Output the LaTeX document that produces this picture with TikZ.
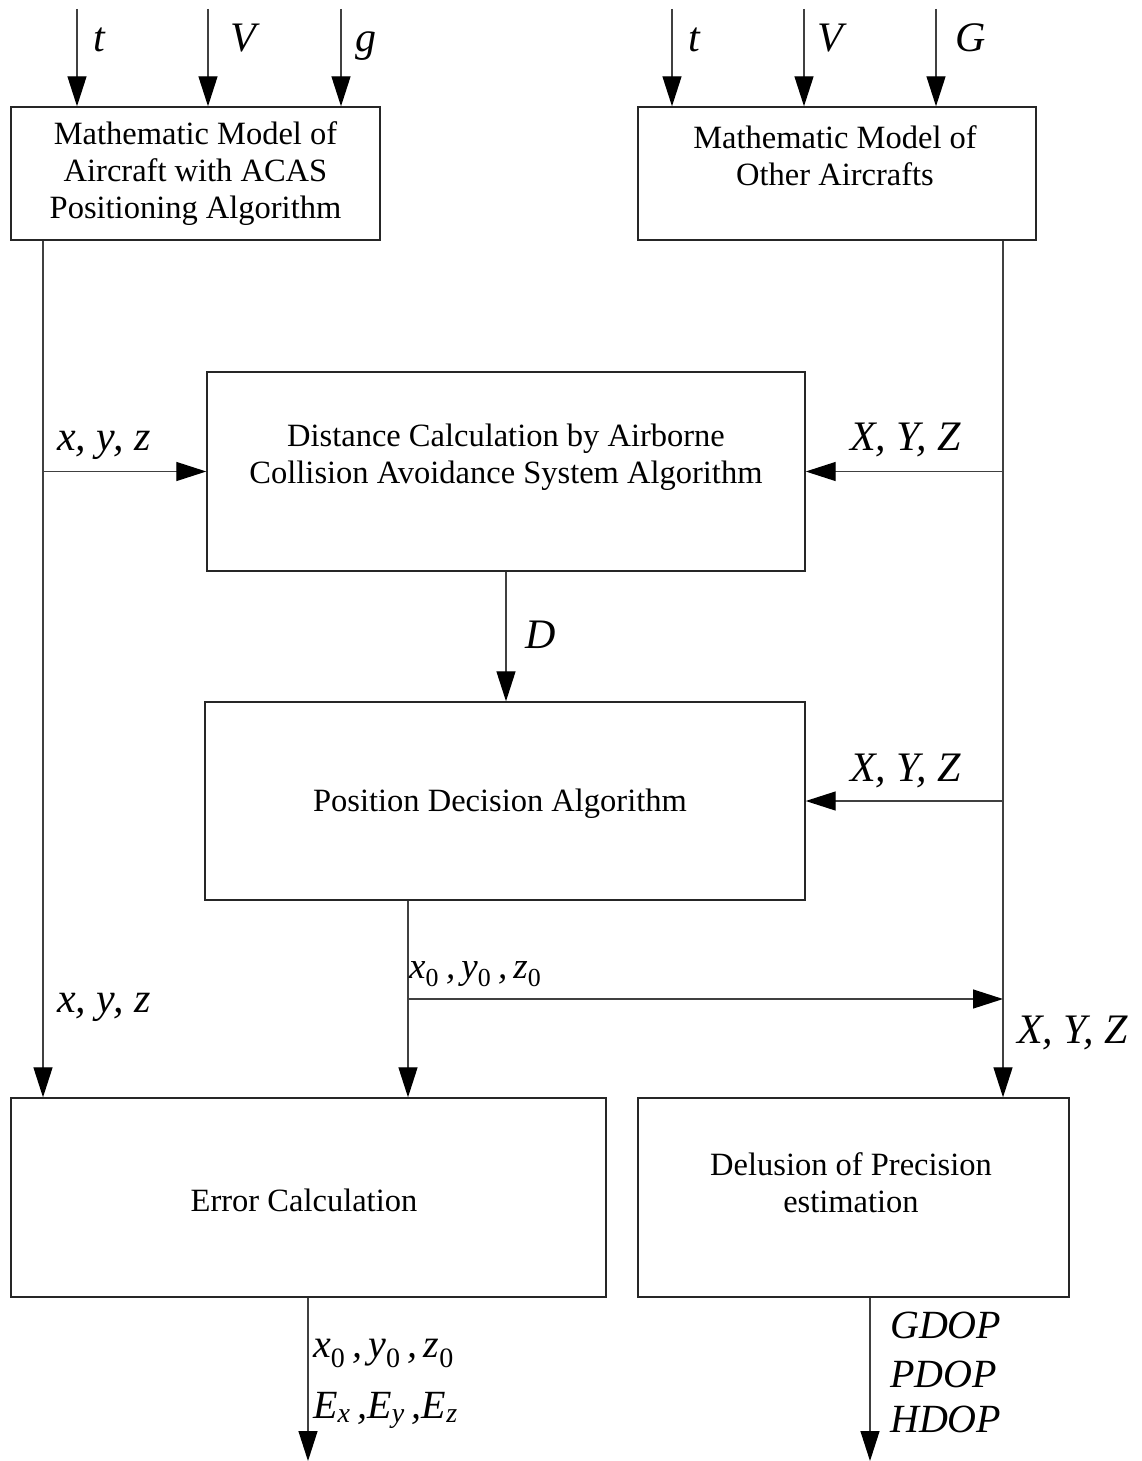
\documentclass[tikz,border=0pt]{standalone}
\usepackage{fontspec}
\setmainfont{Liberation Serif}
\usetikzlibrary{arrows.meta,calc}
\newcommand{\sbs}[1]{\textsubscript{\upshape #1}}
\tikzset{
 box/.style={draw=black!85, line width=1.4pt, inner sep=0pt},
 txt/.style={font=\fontsize{32.5}{37}\selectfont, align=center, inner sep=0pt},
 lbl/.style={font=\fontsize{42}{48}\selectfont\itshape, inner sep=0pt, anchor=base west},
 conn/.style={draw=black!75, line width=1.3pt},
 arr/.style={conn, -{Triangle[length=30pt,width=19pt,color=black]}},
}
\begin{document}
\begin{tikzpicture}[x=1pt,y=-1pt]
\useasboundingbox (0,0) rectangle (1141,1461);
% boxes
\node[box, minimum width=369pt, minimum height=133pt] (b1) at (195.5,173.5) {};
\node[txt] (b1t) at (195.5,174) {Mathematic Model of\\Aircraft with ACAS\\Positioning Algorithm};
\node[box, minimum width=398pt, minimum height=133pt] (b2) at (837,173.5) {};
\node[txt] (b2t) at (835,156) {Mathematic Model of\\Other Aircrafts};
\node[box, minimum width=598pt, minimum height=199pt] (b3) at (506,471.5) {};
\node[txt] (b3t) at (506,457.5) {Distance Calculation by Airborne\\Collision Avoidance System Algorithm};
\node[box, minimum width=600pt, minimum height=198pt] (b4) at (505,801) {};
\node[txt] (b4t) at (500,804) {Position Decision Algorithm};
\node[box, minimum width=595pt, minimum height=199pt] (err) at (308.5,1197.5) {};
\node[txt] (errt) at (304,1200) {Error Calculation};
\node[box, minimum width=431pt, minimum height=199pt] (dop) at (853.5,1197.5) {};
\node[txt] (dopt) at (851,1183) {Delusion of Precision\\estimation};
% top inputs
\coordinate (t1) at (77,9);
\coordinate (t2) at (208,9);
\coordinate (t3) at (341,9);
\coordinate (t4) at (672,9);
\coordinate (t5) at (804,9);
\coordinate (t6) at (936,9);
\foreach \c/\b in {t1/b1,t2/b1,t3/b1,t4/b2,t5/b2,t6/b2}
  \draw[arr] (\c) -- (\c |- \b.north);
\node[lbl] (lt1) at (93,52) {t};
\node[lbl] (lv1) at (230,52) {V};
\node[lbl] (lg1) at (355,52) {g};
\node[lbl] (lt2) at (688,52) {t};
\node[lbl] (lv2) at (817,52) {V};
\node[lbl] (lg2) at (955,52) {G};
% vertical buses
\coordinate (lx) at (43,0);
\coordinate (rx) at (1003,0);
\coordinate (mx) at (408,0);
\draw[arr] (b1.south -| lx) -- (err.north -| lx);
\draw[arr] (b2.south -| rx) -- (dop.north -| rx);
\draw[arr] (b3.west -| lx) -- (b3.west);
\draw[arr] (b3.east -| rx) -- (b3.east);
\draw[arr] (b4.east -| rx) -- (b4.east);
\draw[arr] (b3.south) -- (b4.north -| b3.south);
\draw[arr] (b4.south -| mx) -- (err.north -| mx);
\coordinate (jm) at (408,999);
\draw[arr] (jm) -- (jm -| rx);
\coordinate (eout) at (308,1461);
\coordinate (dout) at (870,1461);
\draw[arr] (err.south -| eout) -- (eout);
\draw[arr] (dop.south -| dout) -- (dout);
% labels
\node[lbl] (l1) at (57,450) {x, y, z};
\node[lbl] (l2) at (850,450) {X, Y, Z};
\node[lbl] (l3) at (525,648) {D};
\node[lbl] (l4) at (850,781) {X, Y, Z};
\node[lbl, font=\fontsize{37}{44}\selectfont\itshape] (l5) at (409,978) {x\sbs{0}\kern7pt,\kern6pt y\sbs{0}\kern7pt,\kern6pt z\sbs{0}};
\node[lbl] (l6) at (57,1012) {x, y, z};
\node[lbl] (l7) at (1017,1043) {X, Y, Z};
\node[lbl, font=\fontsize{40}{46}\selectfont\itshape] (l8) at (313,1357) {x\sbs{0}\kern7pt,\kern6pt y\sbs{0}\kern7pt,\kern6pt z\sbs{0}};
\node[lbl, font=\fontsize{40}{46}\selectfont\itshape] (l9) at (313,1418) {E\textsubscript{x}\kern7pt,E\textsubscript{y}\kern7pt,E\textsubscript{z}};
\node[lbl, font=\fontsize{40}{46}\selectfont\itshape] (l10) at (890,1338) {GDOP};
\node[lbl, font=\fontsize{40}{46}\selectfont\itshape] (l11) at (890,1387) {PDOP};
\node[lbl, font=\fontsize{40}{46}\selectfont\itshape] (l12) at (890,1432) {HDOP};
\end{tikzpicture}
\end{document}
